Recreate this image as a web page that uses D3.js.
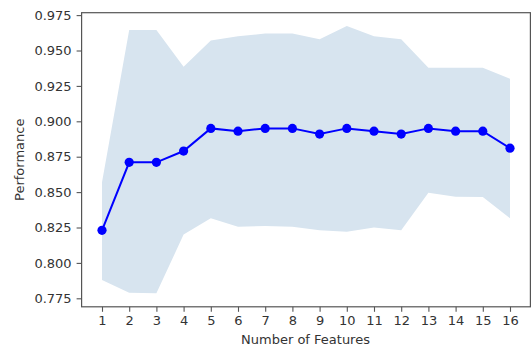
<!DOCTYPE html>
<html>
<head>
<meta charset="utf-8">
<script src="https://cdn.jsdelivr.net/npm/d3@7"></script>
<style>
  html, body { margin: 0; padding: 0; background: #fff; }
  svg { display: block; }
  text { font-family: "DejaVu Sans", sans-serif; }
</style>
</head>
<body>
<svg id="chart" width="531" height="349"></svg>
<script>
const features = [1, 2, 3, 4, 5, 6, 7, 8, 9, 10, 11, 12, 13, 14, 15, 16];
const meanScore = [0.823, 0.871, 0.871, 0.879, 0.895, 0.893, 0.895, 0.895, 0.891, 0.895, 0.893, 0.891, 0.895, 0.893, 0.893, 0.881];
const upperBand = [0.857, 0.9645, 0.9645, 0.9386, 0.957, 0.960, 0.962, 0.962, 0.958, 0.9673, 0.960, 0.958, 0.9378, 0.9378, 0.9378, 0.930];
const lowerBand = [0.788, 0.779, 0.7785, 0.820, 0.8315, 0.8256, 0.826, 0.8256, 0.823, 0.822, 0.825, 0.823, 0.8496, 0.8468, 0.8466, 0.8315];
const yTicks = [0.775, 0.800, 0.825, 0.850, 0.875, 0.900, 0.925, 0.950, 0.975];
const xTicks = features;

const svg = d3.select("#chart");
const pLeft = 81.6, pRight = 530.4, pTop = 12.7, pBottom = 306.8;

const x = d3.scaleLinear().domain([0.25, 16.75]).range([pLeft, pRight]);
const y = d3.scaleLinear().domain([0.769, 0.9767]).range([pBottom, pTop]);

const rows = features.map((f, i) => ({ f, m: meanScore[i], lo: lowerBand[i], hi: upperBand[i] }));

// band
svg.append("path")
  .datum(rows)
  .attr("fill", "#d7e4ef")
  .attr("d", d3.area().x(d => x(d.f)).y0(d => y(d.lo)).y1(d => y(d.hi)));

// line
svg.append("path")
  .datum(rows)
  .attr("fill", "none")
  .attr("stroke", "#0000ff")
  .attr("stroke-width", 2)
  .attr("d", d3.line().x(d => x(d.f)).y(d => y(d.m)));

svg.append("g").selectAll("circle")
  .data(rows)
  .join("circle")
  .attr("cx", d => x(d.f))
  .attr("cy", d => y(d.m))
  .attr("r", 4.6)
  .attr("fill", "#0000ff");

// axes
const yAxis = d3.axisLeft(y).tickValues(yTicks).tickFormat(d3.format(".3f")).tickSize(5).tickPadding(5);
const xAxis = d3.axisBottom(x).tickValues(xTicks).tickFormat(d3.format("d")).tickSize(5).tickPadding(4);

const gy = svg.append("g").attr("transform", `translate(${pLeft},0)`).call(yAxis);
const gx = svg.append("g").attr("transform", `translate(0,${pBottom})`).call(xAxis);

[gy, gx].forEach(g => {
  g.select(".domain").remove();
  g.selectAll(".tick line").attr("stroke", "#555").attr("stroke-width", 1.1);
  g.selectAll(".tick text").attr("fill", "#333").style("font-size", "13px");
});

// spines
svg.append("rect")
  .attr("x", pLeft).attr("y", pTop)
  .attr("width", pRight - pLeft).attr("height", pBottom - pTop)
  .attr("fill", "none").attr("stroke", "#555").attr("stroke-width", 1.2);

// labels
svg.append("text")
  .attr("x", (pLeft + pRight) / 2 - 0.5)
  .attr("y", 344)
  .attr("text-anchor", "middle")
  .attr("fill", "#333")
  .style("font-size", "13px")
  .text("Number of Features");

svg.append("text")
  .attr("transform", `translate(24,${(pTop + pBottom) / 2}) rotate(-90)`)
  .attr("text-anchor", "middle")
  .attr("fill", "#333")
  .style("font-size", "13px")
  .text("Performance");
</script>
</body>
</html>
